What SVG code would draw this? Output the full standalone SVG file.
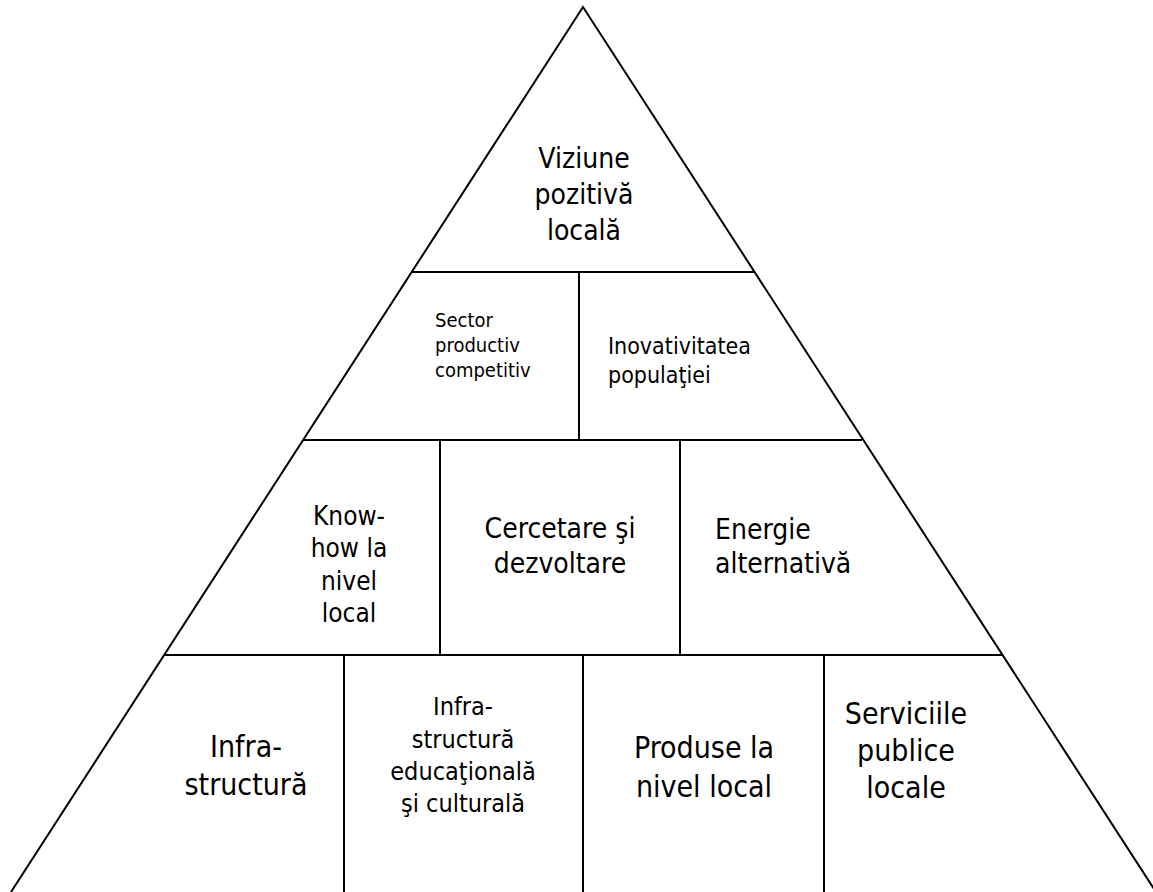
<svg xmlns="http://www.w3.org/2000/svg" width="1153" height="892" viewBox="0 0 1153 892">
<style>
.ln{stroke:#000;stroke-width:2;fill:none}
text{font-family:"DejaVu Sans Condensed","DejaVu Sans",sans-serif;font-stretch:condensed;fill:#000}
.c{text-anchor:middle}
.s{text-anchor:start}
</style>
<rect width="1153" height="892" fill="#fff"/>
<g id="frame">
<polyline class="ln" points="11,892 583,7 1156,892"/>
<line class="ln" x1="412" y1="272" x2="754" y2="272"/>
<line class="ln" x1="303" y1="440" x2="862" y2="440"/>
<line class="ln" x1="164" y1="655" x2="1002" y2="655"/>
<line class="ln" x1="579" y1="272" x2="579" y2="440"/>
<line class="ln" x1="440" y1="440" x2="440" y2="655"/>
<line class="ln" x1="680" y1="440" x2="680" y2="655"/>
<line class="ln" x1="344" y1="655" x2="344" y2="892"/>
<line class="ln" x1="583" y1="655" x2="583" y2="892"/>
<line class="ln" x1="824" y1="655" x2="824" y2="892"/>
</g>
<g id="viziune" font-size="28">
<text class="c" x="584" y="168">Viziune</text>
<text class="c" x="584" y="204">pozitivă</text>
<text class="c" x="584" y="240">locală</text>
</g>
<g id="sector" font-size="20">
<text class="s" x="435" y="327">Sector</text>
<text class="s" x="435" y="352">productiv</text>
<text class="s" x="435" y="377">competitiv</text>
</g>
<g id="inovativitatea" font-size="23">
<text class="s" x="608" y="354">Inovativitatea</text>
<text class="s" x="608" y="383">populaţiei</text>
</g>
<g id="knowhow" font-size="26">
<text class="c" x="349" y="525">Know-</text>
<text class="c" x="349" y="557">how la</text>
<text class="c" x="349" y="590">nivel</text>
<text class="c" x="349" y="622">local</text>
</g>
<g id="cercetare" font-size="28">
<text class="c" x="560" y="538">Cercetare şi</text>
<text class="c" x="560" y="573">dezvoltare</text>
</g>
<g id="energie" font-size="28">
<text class="s" x="715" y="539">Energie</text>
<text class="s" x="715" y="573">alternativă</text>
</g>
<g id="infrastructura" font-size="30">
<text class="c" x="246" y="757">Infra-</text>
<text class="c" x="246" y="795">structură</text>
</g>
<g id="infra-educ" font-size="25">
<text class="c" x="463" y="715">Infra-</text>
<text class="c" x="463" y="748">structură</text>
<text class="c" x="463" y="780">educaţională</text>
<text class="c" x="463" y="812">şi culturală</text>
</g>
<g id="produse" font-size="30">
<text class="c" x="704" y="758">Produse la</text>
<text class="c" x="704" y="797">nivel local</text>
</g>
<g id="servicii" font-size="30">
<text class="c" x="906" y="724">Serviciile</text>
<text class="c" x="906" y="761">publice</text>
<text class="c" x="906" y="798">locale</text>
</g>
</svg>
